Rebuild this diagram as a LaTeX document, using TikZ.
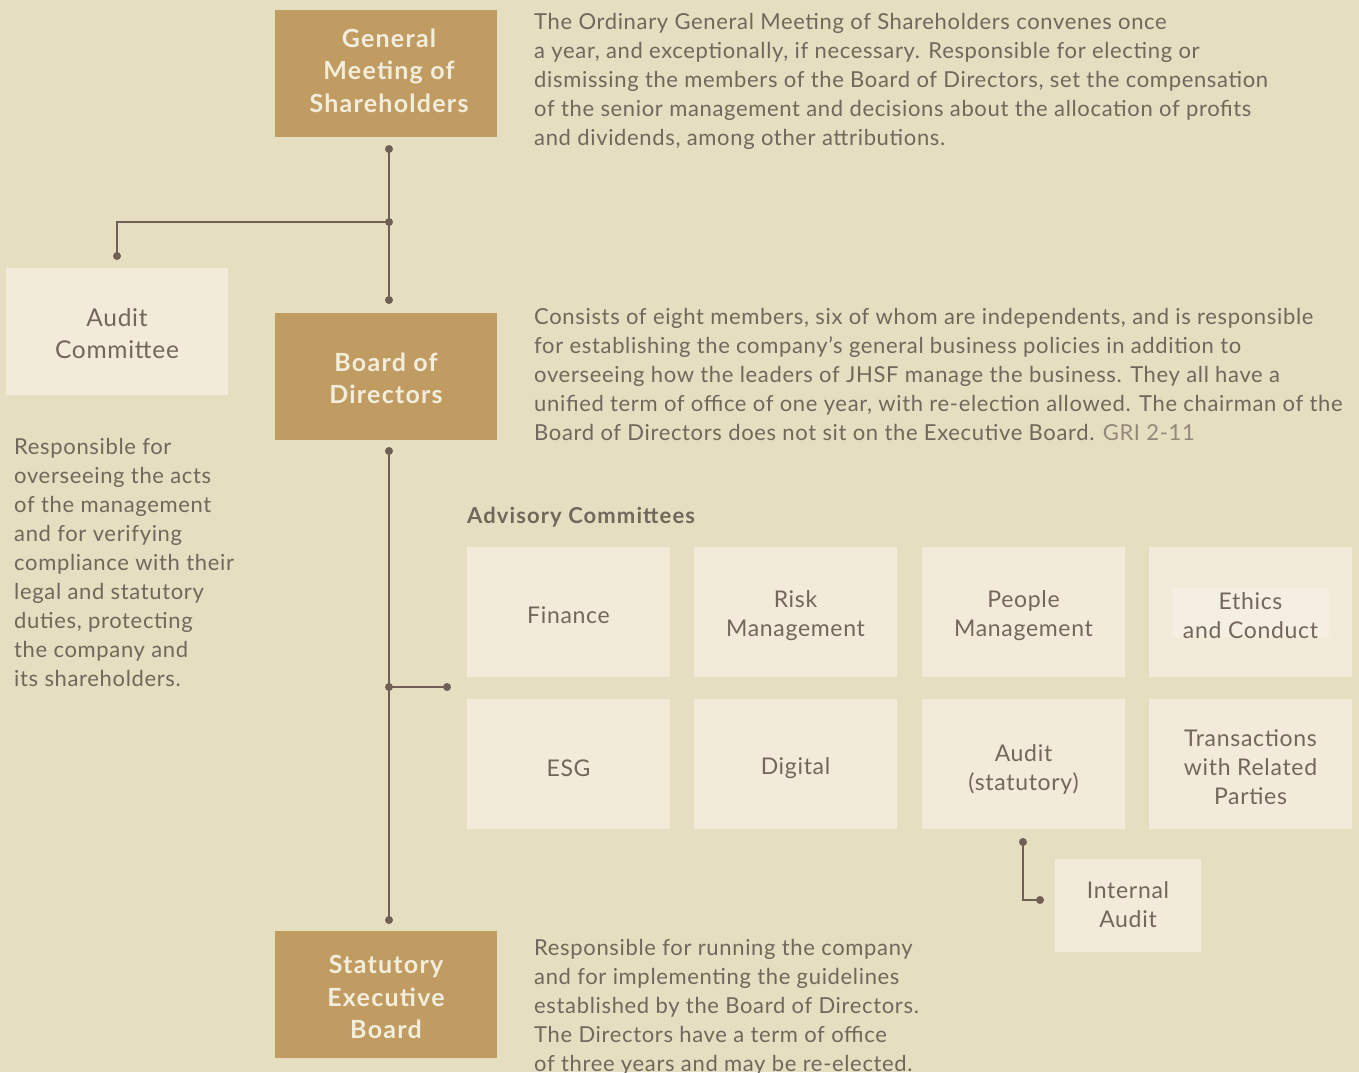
\documentclass[tikz,border=0pt]{standalone}
\usepackage{fontspec}
\setmainfont{Lato}
\definecolor{bg}{HTML}{E6DEC1}
\definecolor{gold}{HTML}{C09C62}
\definecolor{light}{HTML}{F2EBD9}
\definecolor{lighter}{HTML}{F5EFE2}
\definecolor{txt}{HTML}{73665B}
\definecolor{gri}{HTML}{958878}
\definecolor{boxtxt}{HTML}{F3EDDC}
\definecolor{ln}{HTML}{6F5F55}
\newfontfamily\spfont[LetterSpace=3]{Lato}
\newfontfamily\spfontb[LetterSpace=5]{Lato}
\begin{document}
\begin{tikzpicture}[x=1pt,y=-1pt,
  goldbox/.style={fill=gold,minimum width=222pt,minimum height=127pt,inner sep=0pt},
  goldtxt/.style={inner sep=0pt,align=center,text=boxtxt,font=\spfontb\fontsize{25}{32.5}\selectfont\bfseries},
  lightbox/.style={fill=light,inner sep=0pt},
  ltxt/.style={inner sep=0pt,align=center,text=txt,font=\spfont\fontsize{23}{29}\selectfont},
  para/.style={anchor=north west,inner sep=0pt,align=left,text=txt,font=\spfont\fontsize{22}{29}\selectfont},
  cbox/.style={lightbox,minimum width=203pt,minimum height=130pt},
  conn/.style={draw=ln,line width=2.3pt},
  dot/.style={circle,fill=ln,inner sep=0pt,minimum size=8pt}]
\fill[bg] (0,0) rectangle (1359,1072);
\clip (0,0) rectangle (1359,1072);
% main boxes
\node[goldbox] (gm) at (386,73.5) {};
\node[goldtxt] (gmt) at (389,70.5) {General\\Meeting of\\Shareholders};
\node[goldbox] (bod) at (386,376.5) {};
\node[goldtxt] (bodt) at (386,378.5) {Board of\\Directors};
\node[goldbox] (seb) at (386,994.5) {};
\node[goldtxt] (sebt) at (386,997) {Statutory\\Executive\\Board};
\node[lightbox,minimum width=222pt,minimum height=127pt] (ac) at (117,331.5) {};
\node[ltxt,font=\spfont\fontsize{24.5}{32}\selectfont] (act) at (117,333.5) {Audit\\Committee};
% paragraphs
\node[para] (gmtxt) at (534,13) {The Ordinary General Meeting of Shareholders convenes once\\a year, and exceptionally, if necessary. Responsible for electing or\\dismissing the members of the Board of Directors, set the compensation\\of the senior management and decisions about the allocation of profits\\and dividends, among other attributions.};
\node[para] (bodtxt) at (534,308) {Consists of eight members, six of whom are independents, and is responsible\\for establishing the company’s general business policies in addition to\\overseeing how the leaders of JHSF manage the business. They all have a\\unified term of office of one year, with re-election allowed. The chairman of the\\Board of Directors does not sit on the Executive Board. {\color{gri}GRI 2-11}};
\node[para] (actxt) at (14,438) {Responsible for\\overseeing the acts\\of the management\\and for verifying\\compliance with their\\legal and statutory\\duties, protecting\\the company and\\its shareholders.};
\node[para] (sebtxt) at (534,939) {Responsible for running the company\\and for implementing the guidelines\\established by the Board of Directors.\\The Directors have a term of office\\of three years and may be re-elected.};
% advisory committees
\node[anchor=west,inner sep=0pt,text=txt,font=\spfontb\fontsize{22}{25}\selectfont\bfseries] (adv) at (467,517) {Advisory Committees};
\node[cbox] (fin) at (568.5,612) {};
\node[ltxt] at ([yshift=-3pt]fin.center) {Finance};
\node[cbox] (risk) at (795.5,612) {};
\node[ltxt] at ([yshift=-3.5pt]risk.center) {Risk\\Management};
\node[cbox] (people) at (1023.5,612) {};
\node[ltxt] at ([yshift=-3.5pt]people.center) {People\\Management};
\node[cbox] (ethics) at (1250.5,612) {};
\fill[lighter] (1173,588) rectangle (1329,637);
\node[ltxt] at ([yshift=-3.5pt]ethics.center) {Ethics\\and Conduct};
\node[cbox] (esg) at (568.5,764) {};
\node[ltxt] at ([yshift=-4.5pt]esg.center) {ESG};
\node[cbox] (dig) at (795.5,764) {};
\node[ltxt] at ([yshift=-4.5pt]dig.center) {Digital};
\node[cbox] (aud) at (1023.5,764) {};
\node[ltxt] at ([yshift=-5pt]aud.center) {Audit\\(statutory)};
\node[cbox] (trans) at (1250.5,764) {};
\node[ltxt] at ([yshift=-3.5pt]trans.center) {Transactions\\with Related\\Parties};
\node[lightbox,minimum width=146pt,minimum height=93pt] (ia) at (1128,905.5) {};
\node[ltxt] at ([yshift=1pt]ia.center) {Internal\\Audit};
% connector points
\coordinate (p1) at (389,149);
\coordinate (p2) at (389,222);
\coordinate (p3) at (389,300);
\coordinate (p4) at (117,256);
\coordinate (q1) at (389,451);
\coordinate (q2) at (389,687);
\coordinate (q3) at (389,920);
\coordinate (q4) at (447,687);
\coordinate (r1) at (1023,842);
\coordinate (r2) at (1040,900);
\draw[conn] (p1) -- (p3);
\draw[conn] (p2) -| (p4);
\draw[conn] (q1) -- (q3);
\draw[conn] (q2) -- (q4);
\draw[conn] (r1) |- (r2);
\foreach \c in {p1,p2,p3,p4,q1,q2,q3,q4,r1,r2} \node[dot] at (\c) {};
\end{tikzpicture}
\end{document}
